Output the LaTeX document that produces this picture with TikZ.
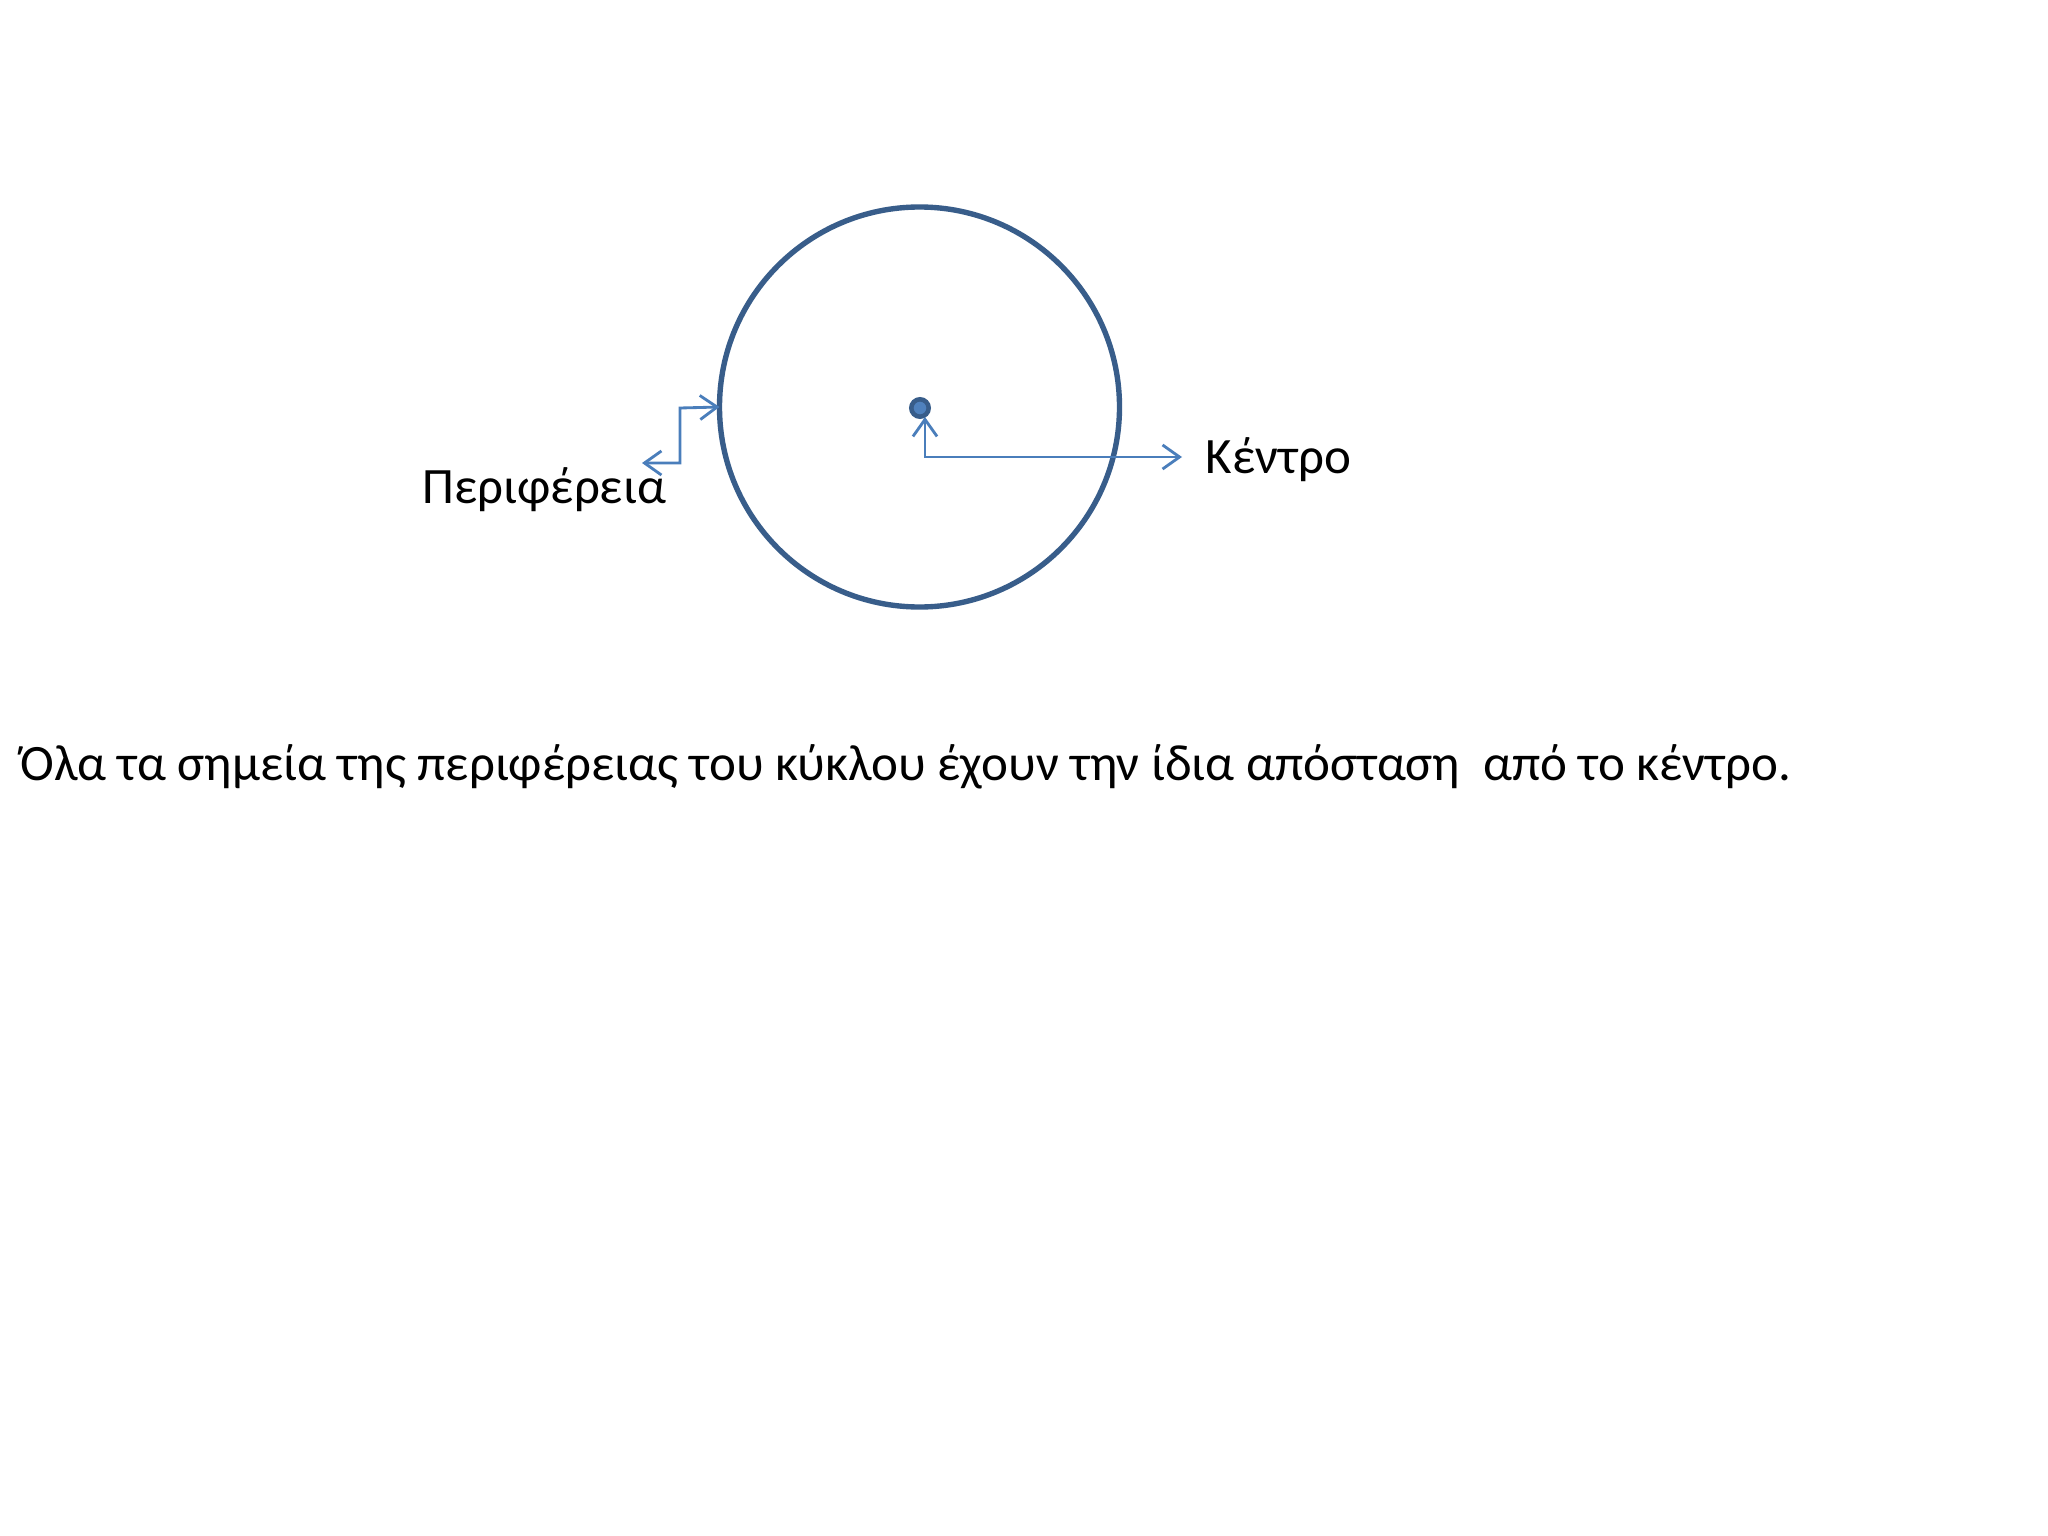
\documentclass[tikz,border=0pt]{standalone}
\usepackage{fontspec}
\setmainfont{Carlito}
\usetikzlibrary{arrows.meta}
\definecolor{circblue}{HTML}{385D8A}
\definecolor{arrblue}{HTML}{4A7EBB}
\definecolor{dotfill}{HTML}{4F81BD}
\tikzset{
  conn/.style={draw=arrblue, line width=1pt, {Straight Barb[length=6pt,width=8.5pt]}-{Straight Barb[length=6pt,width=8.5pt]}},
  lbl/.style={anchor=base west, inner sep=0pt, font=\fontsize{18}{21}\selectfont},
}
\begin{document}
\begin{tikzpicture}[x=0.0048828125in, y=-0.0048828125in]
\useasboundingbox[fill=white] (0,0) rectangle (2048,1536);
% circle
\node[circle, draw=circblue, line width=1.9pt, minimum size=1.953125in, inner sep=0pt, outer sep=0pt] (circ) at (919.5,407) {};
% centre dot
\node[circle, draw=circblue, fill=dotfill, line width=1.6pt, minimum size=0.085in, inner sep=0pt] (dot) at (920,408) {};
% labels
\node[lbl] (kentro) at (1205,473) {Κέντρο};
\node[lbl] (perif) at (422,503) {Περιφέρεια};
\node[lbl] (text) at (20,780) {Όλα τα σημεία της περιφέρειας του κύκλου έχουν την ίδια απόσταση\ \ από το κέντρο.};
% connectors
\coordinate (dottip) at (925,417);
\coordinate (kenttip) at (1182,457);
\draw[conn] (dottip) |- (kenttip);
\coordinate (pertip) at (642,463);
\coordinate (perbend) at (680,408);
\draw[conn] (pertip) -| (perbend) -- (circ.west);
\end{tikzpicture}
\end{document}
